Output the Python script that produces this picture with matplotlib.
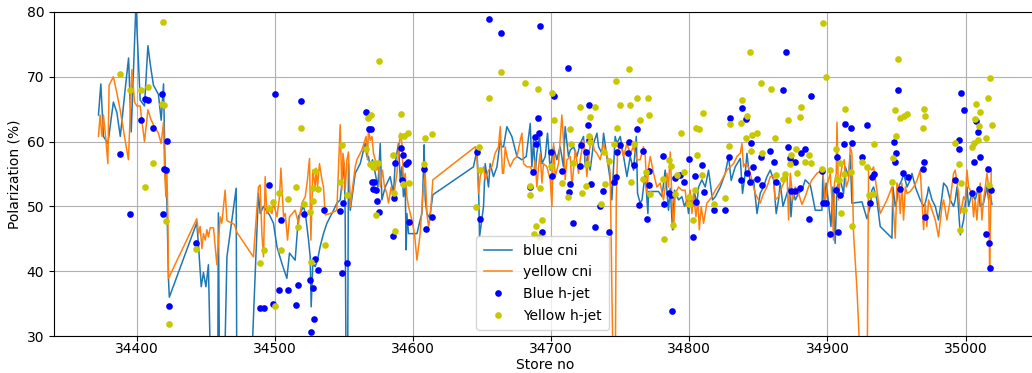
import matplotlib
matplotlib.use("Agg")
import matplotlib.pyplot as plt
from matplotlib.ticker import ScalarFormatter

# ---------------- data ----------------
blue_cni_x = [34372.2, 34373.9, 34375.8, 34379.0, 34383.0, 34385.5, 34388.0, 34391.5, 34394.0, 34395.9,
              34399.3, 34402.4, 34405.5, 34408.0, 34410.0, 34412.0, 34415.6, 34417.6, 34419.3, 34420.5,
              34421.7, 34422.9, 34423.5, 34443.4, 34444.6, 34446.6, 34448.2, 34450.0, 34451.8, 34453.8,
              34458.5, 34459.0, 34460.0, 34463.0, 34465.2, 34471.9, 34472.4, 34482.0, 34488.0, 34489.3,
              34491.7, 34496.0, 34498.9, 34501.4, 34505.0, 34508.6, 34510.5, 34514.6, 34517.0, 34520.6,
              34522.0, 34524.3, 34525.5, 34526.2, 34527.4, 34529.1, 34530.8, 34532.7, 34535.1, 34537.6,
              34542.4, 34544.8, 34547.2, 34549.2, 34550.1, 34550.8, 34551.6, 34552.5, 34553.2, 34554.5,
              34558.1, 34561.7, 34565.3, 34566.5, 34567.7, 34568.9, 34570.6, 34572.6, 34574.5, 34576.2,
              34577.4, 34579.8, 34583.4, 34585.8, 34587.0, 34589.4, 34590.7, 34591.9, 34593.0, 34594.3,
              34595.0, 34595.5, 34596.7, 34602.8, 34605.1, 34606.4, 34607.5, 34608.0, 34608.8, 34610.0,
              34611.2, 34612.4, 34614.3, 34643.7, 34646.2, 34647.4, 34648.1, 34651.0, 34652.2, 34654.6,
              34655.8, 34658.2, 34660.7, 34663.1, 34664.3, 34665.5, 34667.9, 34671.5, 34675.2, 34678.8,
              34681.9, 34684.8, 34686.0, 34687.2, 34688.4, 34689.6, 34691.5, 34693.3, 34695.7, 34697.3,
              34699.3, 34701.7, 34704.1, 34706.5, 34708.9, 34710.1, 34712.5, 34713.8, 34716.2, 34718.6,
              34721.0, 34723.4, 34724.6, 34726.3, 34728.2, 34730.6, 34733.1, 34734.3, 34736.7, 34737.9,
              34740.3, 34742.7, 34743.9, 34746.3, 34747.5, 34750.0, 34753.6, 34754.8, 34757.2, 34759.6,
              34761.6, 34762.5, 34764.4, 34765.7, 34768.1, 34770.0, 34770.5, 34774.1, 34777.7, 34780.2,
              34782.5, 34784.9, 34786.2, 34787.8, 34789.3, 34792.2, 34794.6, 34796.5, 34798.3, 34799.4,
              34800.6, 34802.3, 34803.8, 34805.5, 34806.7, 34809.1, 34811.5, 34813.9, 34816.8, 34818.8,
              34822.4, 34826.0, 34828.4, 34830.3, 34833.2, 34836.9, 34838.5, 34840.5, 34841.7, 34844.1,
              34846.5, 34849.0, 34851.3, 34853.7, 34856.2, 34858.6, 34861.0, 34862.9, 34864.6, 34865.8,
              34867.8, 34870.7, 34872.6, 34873.6, 34875.0, 34876.7, 34879.1, 34881.5, 34883.9, 34887.6,
              34891.2, 34896.0, 34896.7, 34897.7, 34899.1, 34900.8, 34902.5, 34904.0, 34905.6, 34906.9,
              34909.3, 34911.7, 34912.9, 34915.3, 34916.5, 34917.7, 34925.0, 34928.6, 34931.0, 34932.2,
              34933.4, 34935.8, 34938.2, 34946.7, 34947.4, 34949.1, 34950.3, 34951.5, 34953.9, 34955.1,
              34957.6, 34960.0, 34961.2, 34963.6, 34967.2, 34969.6, 34970.8, 34972.5, 34973.2, 34975.7,
              34978.1, 34980.4, 34982.9, 34984.1, 34986.5, 34988.9, 34991.3, 34992.5, 34993.8, 34996.2,
              34998.6, 35001.0, 35002.2, 35004.6, 35007.0, 35009.4, 35010.6, 35013.0, 35015.5, 35016.7,
              35017.9, 35019.1]
blue_cni_y = [64.1, 68.9, 60.8, 59.7, 66.1, 64.5, 60.8, 68.0, 72.9, 61.5,
              81.0, 66.4, 65.5, 74.8, 71.5, 68.7, 67.3, 63.3, 68.9, 55.0,
              51.0, 38.7, 36.0, 47.5, 44.0, 37.6, 39.8, 37.6, 41.0, 20.0,
              20.0, 49.0, 20.0, 20.0, 42.2, 52.8, 20.0, 20.0, 52.0, 48.9,
              50.0, 48.7, 47.4, 43.8, 41.2, 38.9, 42.8, 41.7, 48.4, 50.0,
              48.9, 44.8, 42.2, 34.5, 41.2, 40.7, 41.7, 43.8, 45.8, 47.4,
              49.4, 50.5, 51.0, 55.1, 56.6, 48.9, 20.0, 20.0, 56.6, 49.4,
              55.1, 56.6, 59.7, 57.7, 57.7, 56.1, 57.2, 55.1, 53.0, 59.7,
              51.0, 53.0, 54.6, 52.0, 56.6, 59.7, 54.1, 56.1, 51.5, 53.0,
              43.3, 48.9, 45.8, 45.8, 47.9, 48.9, 55.6, 59.5, 51.0, 48.9,
              48.4, 48.9, 51.8, 56.1, 58.7, 53.0, 45.3, 50.0, 56.6, 53.0,
              56.6, 54.6, 56.1, 60.2, 59.2, 59.2, 62.3, 60.8, 57.7, 57.2,
              57.7, 62.8, 56.1, 60.2, 55.1, 58.2, 60.8, 56.6, 57.7, 61.3,
              55.6, 59.2, 57.2, 59.2, 56.1, 62.3, 57.7, 58.7, 59.2, 57.7,
              59.7, 60.8, 56.1, 57.7, 55.6, 59.7, 61.3, 59.2, 58.2, 61.3,
              57.7, 54.1, 51.0, 60.8, 59.7, 60.8, 56.1, 54.6, 57.7, 55.6,
              60.8, 52.0, 50.5, 51.0, 55.1, 48.9, 52.3, 52.3, 52.3, 51.5,
              55.6, 49.4, 52.8, 46.4, 52.5, 51.0, 51.5, 50.0, 51.0, 48.9,
              51.5, 50.0, 52.0, 50.5, 53.0, 54.1, 53.0, 55.6, 51.0, 51.5,
              53.0, 55.1, 57.7, 54.0, 56.1, 57.4, 52.0, 55.1, 58.2, 53.6,
              54.1, 48.9, 52.0, 53.0, 54.6, 55.6, 54.1, 48.9, 51.0, 53.6,
              50.0, 52.0, 53.0, 48.4, 52.5, 51.0, 52.0, 52.5, 54.1, 53.3,
              49.4, 49.4, 55.1, 50.3, 53.6, 50.5, 46.9, 53.0, 44.3, 53.0,
              54.1, 52.0, 56.1, 54.6, 57.9, 50.5, 50.7, 48.1, 50.0, 52.5,
              53.0, 51.0, 46.9, 45.1, 53.0, 50.0, 51.0, 53.0, 54.1, 55.1,
              53.0, 54.1, 55.1, 53.0, 51.0, 50.0, 50.5, 52.0, 53.0, 51.0,
              50.0, 47.9, 51.5, 53.6, 53.0, 51.0, 50.0, 51.0, 53.0, 45.6,
              47.9, 53.0, 50.0, 52.0, 51.0, 53.0, 50.0, 50.5, 53.0, 51.0,
              52.0, 50.3]

yellow_cni_x = [34372.2, 34373.4, 34374.7, 34375.8, 34377.6, 34379.0, 34379.9, 34383.0, 34385.5, 34387.9,
                34391.5, 34393.9, 34396.4, 34398.3, 34400.0, 34402.4, 34403.6, 34405.5, 34408.0, 34410.4,
                34412.7, 34415.6, 34417.6, 34419.3, 34420.0, 34421.0, 34421.7, 34422.4, 34422.9, 34443.4,
                34444.6, 34445.8, 34447.1, 34448.2, 34449.5, 34450.7, 34451.8, 34453.1, 34455.5, 34457.9,
                34460.3, 34461.5, 34463.9, 34465.2, 34470.7, 34472.4, 34484.4, 34488.0, 34489.3, 34490.5,
                34491.7, 34492.9, 34494.1, 34496.0, 34497.8, 34498.9, 34501.4, 34503.3, 34504.3, 34506.2,
                34507.4, 34509.1, 34510.5, 34514.6, 34517.0, 34519.5, 34521.9, 34523.5, 34525.0, 34526.0,
                34527.4, 34529.1, 34529.8, 34530.8, 34532.2, 34534.0, 34535.1, 34536.4, 34540.0, 34544.8,
                34547.2, 34548.4, 34549.2, 34550.1, 34550.8, 34552.1, 34553.2, 34554.5, 34558.1, 34559.3,
                34562.9, 34566.0, 34567.0, 34567.7, 34568.9, 34570.2, 34571.3, 34572.6, 34573.8, 34574.9,
                34576.2, 34577.8, 34579.3, 34581.0, 34582.2, 34584.1, 34585.8, 34588.3, 34589.4, 34590.7,
                34591.9, 34593.0, 34594.3, 34595.5, 34596.7, 34599.1, 34601.0, 34602.8, 34605.1, 34607.5,
                34608.8, 34610.0, 34611.2, 34612.4, 34614.3, 34645.0, 34646.2, 34647.4, 34648.6, 34651.0,
                34652.2, 34654.6, 34657.0, 34659.4, 34661.8, 34663.1, 34664.7, 34665.5, 34666.7, 34667.9,
                34670.3, 34672.7, 34675.2, 34677.6, 34678.8, 34680.0, 34682.4, 34684.8, 34687.2, 34688.4,
                34689.6, 34690.8, 34692.0, 34693.3, 34694.4, 34696.9, 34699.3, 34700.5, 34701.7, 34702.9,
                34705.3, 34707.7, 34708.9, 34710.1, 34711.4, 34713.8, 34715.0, 34717.4, 34719.8, 34721.0,
                34723.4, 34724.6, 34725.8, 34727.7, 34729.5, 34731.1, 34733.1, 34735.5, 34737.9, 34740.3,
                34741.5, 34742.7, 34745.1, 34746.3, 34747.1, 34748.0, 34750.0, 34752.4, 34754.8, 34757.2,
                34759.6, 34762.0, 34764.4, 34766.8, 34768.1, 34769.3, 34770.5, 34771.7, 34774.1, 34776.5,
                34778.9, 34781.3, 34783.8, 34784.9, 34786.2, 34787.4, 34788.6, 34789.8, 34792.2, 34794.6,
                34797.0, 34798.3, 34799.4, 34800.6, 34801.9, 34803.0, 34804.8, 34806.2, 34807.2, 34808.6,
                34810.3, 34812.7, 34816.4, 34818.8, 34822.4, 34824.8, 34827.2, 34829.6, 34832.0, 34834.5,
                34836.9, 34838.1, 34839.2, 34840.5, 34842.9, 34845.3, 34847.7, 34851.3, 34853.7, 34856.2,
                34858.6, 34861.0, 34862.2, 34864.6, 34867.0, 34869.4, 34870.7, 34871.9, 34873.1, 34875.0,
                34876.7, 34879.1, 34881.5, 34883.9, 34886.3, 34888.8, 34892.4, 34896.0, 34897.2, 34898.4,
                34900.1, 34902.0, 34903.3, 34904.4, 34905.1, 34906.4, 34906.9, 34908.0, 34909.3, 34910.5,
                34912.2, 34913.6, 34915.3, 34916.5, 34917.7, 34918.9, 34921.4, 34925.0, 34928.6, 34929.8,
                34932.2, 34933.4, 34935.8, 34938.2, 34943.1, 34946.7, 34949.1, 34950.3, 34951.5, 34952.7,
                34953.9, 34955.1, 34956.4, 34957.6, 34960.0, 34962.4, 34964.8, 34967.2, 34969.6, 34970.8,
                34972.0, 34973.2, 34975.7, 34978.1, 34980.4, 34982.9, 34984.1, 34986.5, 34988.9, 34991.3,
                34992.5, 34993.8, 34995.0, 34996.2, 34997.4, 34998.6, 34999.8, 35001.0, 35002.2, 35004.6,
                35005.8, 35007.0, 35008.2, 35009.4, 35010.6, 35011.8, 35013.0, 35014.3, 35015.5, 35016.7,
                35017.4, 35017.9, 35018.6]
yellow_cni_y = [60.8, 64.1, 60.8, 64.1, 60.2, 56.6, 68.7, 70.0, 67.5, 64.9,
                60.2, 57.2, 71.1, 66.1, 65.5, 65.5, 63.3, 60.0, 64.9, 63.3,
                62.3, 61.3, 59.7, 63.0, 56.1, 51.5, 55.6, 48.9, 38.9, 48.1,
                45.8, 46.9, 43.5, 45.8, 44.8, 46.4, 45.3, 46.7, 46.7, 41.0,
                48.4, 47.4, 52.5, 47.8, 47.2, 46.0, 42.2, 53.0, 53.3, 45.8,
                42.2, 54.6, 48.9, 49.4, 48.9, 50.5, 48.4, 51.5, 55.9, 48.4,
                48.9, 44.8, 48.4, 49.4, 47.4, 50.5, 51.5, 54.1, 57.4, 44.8,
                55.6, 53.0, 55.9, 53.0, 56.6, 54.1, 53.0, 48.7, 48.9, 49.4,
                62.6, 52.5, 58.2, 56.6, 52.5, 57.2, 58.4, 50.0, 56.1, 57.2,
                58.7, 60.8, 57.2, 62.3, 60.2, 60.8, 58.2, 57.2, 55.6, 56.6,
                53.0, 55.6, 53.0, 52.0, 50.5, 53.0, 51.5, 55.1, 58.2, 61.3,
                59.7, 54.1, 55.1, 51.5, 50.0, 47.9, 45.8, 41.7, 45.8, 53.0,
                55.1, 48.9, 46.9, 48.4, 54.1, 59.2, 57.7, 52.0, 54.6, 56.1,
                54.1, 55.6, 56.1, 58.2, 59.2, 62.3, 55.1, 55.1, 59.2, 57.7,
                56.1, 57.2, 57.7, 60.2, 61.3, 56.6, 56.1, 56.1, 55.1, 57.2,
                53.0, 56.1, 58.2, 53.6, 56.6, 56.1, 54.1, 50.0, 59.7, 54.6,
                56.6, 64.1, 60.2, 54.1, 57.2, 57.7, 53.0, 58.7, 55.1, 57.2,
                60.2, 58.2, 54.6, 58.7, 60.8, 58.7, 58.2, 57.2, 59.7, 57.7,
                57.2, 55.1, 20.0, 20.0, 51.0, 58.2, 59.7, 57.7, 59.7, 58.2,
                59.2, 57.2, 57.2, 59.2, 57.7, 52.0, 56.1, 57.7, 55.1, 53.0,
                53.6, 51.0, 55.1, 53.0, 58.4, 51.0, 46.4, 52.0, 53.0, 52.5,
                52.5, 50.0, 51.0, 52.5, 48.9, 52.0, 48.4, 51.0, 46.4, 50.0,
                47.4, 50.5, 51.5, 52.5, 53.6, 54.6, 55.6, 56.1, 56.6, 57.7,
                58.2, 59.7, 56.1, 56.6, 56.1, 54.1, 52.0, 50.5, 52.0, 53.0,
                54.6, 54.6, 51.0, 51.5, 53.0, 54.1, 55.1, 47.9, 55.1, 51.0,
                53.0, 52.0, 50.3, 51.5, 53.0, 54.1, 55.1, 55.6, 54.1, 50.5,
                53.6, 55.1, 51.0, 44.8, 53.6, 55.1, 63.0, 51.0, 54.6, 56.1,
                57.2, 53.0, 54.1, 59.2, 58.2, 45.8, 37.1, 20.0, 20.0, 56.1,
                55.6, 56.1, 52.5, 48.9, 51.0, 53.0, 45.1, 53.6, 53.0, 48.9,
                53.6, 47.9, 53.0, 52.0, 52.3, 53.0, 54.0, 55.6, 46.4, 50.5,
                46.9, 51.0, 49.4, 47.9, 45.3, 50.0, 51.0, 47.9, 51.0, 55.1,
                55.6, 53.6, 52.0, 48.9, 50.0, 51.5, 51.0, 55.6, 53.0, 52.0,
                48.4, 51.0, 47.9, 51.5, 53.6, 47.9, 51.0, 53.0, 55.1, 53.0,
                40.7, 45.8, 55.4]

blue_hjet_x = [34388.0, 34395.0, 34403.0, 34406.0, 34408.0, 34412.0, 34418.0, 34419.0, 34422.0, 34420.0,
               34421.0, 34423.0, 34443.0, 34500.1, 34519.0, 34496.0, 34504.3, 34521.1, 34535.8, 34547.2,
               34549.2, 34529.1, 34531.1, 34525.0, 34527.2, 34517.0, 34503.0, 34509.1, 34489.3, 34492.2,
               34498.9, 34515.1, 34527.9, 34526.0, 34548.2, 34552.1, 34565.8, 34568.0, 34569.2, 34570.2,
               34572.0, 34571.1, 34573.1, 34574.0, 34575.0, 34587.0, 34586.1, 34585.1, 34590.9, 34592.8,
               34594.5, 34596.0, 34591.9, 34596.7, 34608.0, 34609.0, 34614.0, 34646.2, 34648.1, 34655.1,
               34663.8, 34692.0, 34712.1, 34701.7, 34690.1, 34688.4, 34691.5, 34688.9, 34700.0, 34686.7,
               34685.0, 34700.9, 34708.0, 34713.8, 34713.0, 34715.7, 34693.3, 34721.7, 34727.7, 34726.3,
               34727.3, 34725.4, 34721.0, 34728.7, 34737.6, 34735.5, 34731.9, 34741.8, 34747.6, 34750.0,
               34756.0, 34755.8, 34760.1, 34745.1, 34746.9, 34761.8, 34763.9, 34766.8, 34770.5, 34771.0,
               34769.0, 34780.9, 34782.0, 34785.0, 34786.7, 34787.8, 34789.8, 34793.6, 34795.8, 34799.9,
               34803.8, 34809.1, 34810.3, 34804.8, 34802.8, 34817.8, 34825.5, 34828.9, 34829.8, 34838.1,
               34841.0, 34844.8, 34846.0, 34841.7, 34837.1, 34843.9, 34849.2, 34852.6, 34851.8, 34858.6,
               34861.5, 34869.7, 34868.0, 34887.8, 34862.9, 34871.8, 34873.1, 34876.7, 34880.8, 34883.7,
               34873.8, 34876.7, 34879.8, 34887.0, 34896.0, 34896.7, 34898.9, 34901.5, 34907.6, 34906.9,
               34906.2, 34909.3, 34912.2, 34912.9, 34917.0, 34917.7, 34925.0, 34928.8, 34932.4, 34933.9,
               34930.8, 34950.8, 34947.9, 34949.3, 34949.1, 34954.7, 34952.7, 34958.0, 34969.6, 34968.9,
               34970.8, 34994.9, 34995.6, 34992.7, 34996.8, 34998.8, 35005.8, 35004.8, 35008.9, 35007.9,
               35010.6, 35009.9, 35015.9, 35018.6, 35015.0, 35016.7, 35017.9]
blue_hjet_y = [58.1, 48.8, 63.3, 66.6, 66.4, 62.1, 67.3, 48.8, 60.1, 55.7,
               55.6, 34.6, 44.4, 67.3, 66.2, 53.3, 47.9, 48.8, 49.4, 49.3,
               50.6, 41.9, 40.2, 38.6, 37.4, 37.8, 37.1, 37.1, 34.3, 34.3,
               35.0, 34.8, 32.6, 30.6, 39.7, 41.3, 64.5, 61.9, 62.0, 53.8,
               53.7, 52.7, 52.5, 50.9, 49.1, 56.7, 51.3, 45.5, 59.0, 57.9,
               56.5, 56.9, 54.1, 47.6, 55.8, 46.5, 48.4, 58.4, 48.1, 78.9,
               76.7, 77.9, 71.4, 67.0, 63.7, 60.7, 61.3, 59.7, 58.4, 55.3,
               53.0, 54.7, 55.4, 53.4, 52.2, 47.5, 46.0, 59.4, 65.6, 62.6,
               60.2, 58.4, 56.3, 53.5, 52.3, 50.0, 46.8, 46.0, 58.4, 59.4,
               60.0, 58.2, 56.4, 53.7, 54.5, 62.0, 50.2, 58.5, 55.5, 53.3,
               48.1, 57.8, 50.4, 52.0, 51.7, 33.8, 54.4, 54.9, 53.8, 57.3,
               54.7, 56.4, 52.2, 50.7, 45.3, 49.4, 49.4, 57.7, 63.7, 65.2,
               63.5, 59.8, 56.1, 55.2, 54.1, 53.7, 54.2, 53.3, 57.6, 58.5,
               56.8, 73.9, 67.9, 67.0, 53.8, 59.1, 57.4, 56.8, 58.3, 58.9,
               52.4, 52.4, 52.9, 48.0, 55.5, 50.6, 50.6, 45.7, 46.0, 57.6,
               52.5, 51.7, 59.6, 62.7, 62.1, 59.8, 57.6, 62.6, 54.6, 55.0,
               50.5, 67.9, 60.0, 58.3, 56.9, 55.1, 52.7, 54.6, 56.8, 55.8,
               48.3, 60.2, 58.8, 54.1, 67.5, 64.9, 56.8, 52.0, 61.5, 63.2,
               57.7, 52.7, 55.8, 52.6, 45.7, 44.4, 40.5]

yellow_hjet_x = [34388.0, 34419.0, 34395.0, 34403.0, 34408.0, 34418.0, 34420.0, 34412.0, 34406.0, 34421.0,
                 34423.0, 34443.0, 34519.0, 34548.4, 34547.2, 34529.1, 34527.2, 34531.1, 34515.1, 34503.0,
                 34498.9, 34509.1, 34496.0, 34521.1, 34527.2, 34525.0, 34517.0, 34552.1, 34492.0, 34489.1,
                 34504.3, 34536.1, 34526.2, 34500.1, 34567.5, 34566.0, 34575.0, 34569.7, 34568.9, 34570.6,
                 34572.6, 34574.5, 34571.3, 34573.1, 34591.2, 34591.4, 34593.6, 34596.0, 34585.1, 34586.1,
                 34587.0, 34592.8, 34596.7, 34608.0, 34608.8, 34614.0, 34647.4, 34648.1, 34645.9, 34655.1,
                 34663.8, 34680.7, 34690.1, 34700.5, 34702.2, 34713.3, 34714.3, 34700.0, 34707.7, 34712.1,
                 34685.0, 34684.8, 34692.0, 34693.3, 34688.9, 34687.2, 34691.5, 34715.7, 34721.0, 34728.2,
                 34731.9, 34725.8, 34722.2, 34725.4, 34728.2, 34727.0, 34736.2, 34738.6, 34742.2, 34737.9,
                 34747.1, 34750.0, 34756.0, 34756.7, 34762.1, 34747.6, 34745.1, 34757.9, 34764.4, 34759.6,
                 34770.1, 34771.0, 34768.6, 34766.8, 34771.7, 34782.0, 34788.1, 34781.1, 34785.0, 34786.9,
                 34791.0, 34789.8, 34795.8, 34793.9, 34799.4, 34799.9, 34802.8, 34804.3, 34805.7, 34809.1,
                 34806.7, 34804.8, 34810.0, 34817.8, 34826.0, 34828.9, 34829.8, 34837.1, 34838.1, 34842.0,
                 34841.0, 34845.3, 34848.9, 34844.1, 34851.8, 34858.8, 34844.8, 34852.8, 34861.7, 34896.7,
                 34898.9, 34871.8, 34880.1, 34880.8, 34873.8, 34876.9, 34887.0, 34883.7, 34887.8, 34873.1,
                 34869.4, 34867.8, 34862.9, 34878.1, 34895.9, 34902.0, 34905.9, 34908.8, 34906.9, 34908.3,
                 34912.9, 34912.2, 34917.0, 34909.8, 34917.7, 34924.7, 34928.6, 34933.9, 34930.3, 34933.0,
                 34950.8, 34948.9, 34952.7, 34955.1, 34957.6, 34949.8, 34947.4, 34946.9, 34969.9, 34970.8,
                 34968.9, 34992.7, 34994.9, 34996.6, 34995.9, 34998.8, 35007.9, 35010.8, 35006.8, 35009.7,
                 35015.9, 35017.9, 35018.8, 35014.8, 35008.7, 35006.3, 35004.8, 35016.9]
yellow_hjet_y = [70.4, 78.5, 67.9, 68.0, 68.4, 65.8, 65.6, 56.7, 53.0, 47.7,
                 31.9, 43.5, 62.1, 59.5, 53.8, 55.5, 52.9, 52.7, 53.0, 52.1,
                 50.7, 51.1, 49.7, 50.3, 50.9, 49.2, 46.8, 51.8, 43.3, 41.3,
                 43.2, 44.0, 41.4, 34.7, 63.7, 58.9, 72.4, 64.1, 56.6, 56.6,
                 56.7, 56.7, 56.1, 48.7, 64.3, 60.9, 60.8, 61.3, 58.0, 52.0,
                 46.2, 53.4, 53.6, 56.6, 60.5, 61.2, 59.2, 55.6, 49.9, 66.7,
                 70.7, 69.0, 68.1, 67.5, 63.3, 61.9, 59.7, 56.3, 53.6, 51.4,
                 53.1, 51.8, 52.8, 47.9, 47.0, 45.8, 45.3, 56.7, 65.3, 63.8,
                 65.3, 56.5, 52.1, 53.1, 60.0, 60.8, 50.4, 53.5, 57.0, 58.4,
                 69.4, 65.6, 71.2, 65.6, 66.7, 62.1, 59.7, 53.8, 63.4, 59.6,
                 66.8, 64.1, 55.3, 54.3, 51.9, 45.0, 47.1, 54.2, 57.2, 56.2,
                 54.8, 51.9, 55.3, 61.3, 51.4, 50.4, 47.9, 52.5, 58.0, 54.8,
                 61.9, 62.1, 64.4, 50.4, 51.3, 59.3, 62.7, 62.8, 66.4, 64.0,
                 60.5, 61.0, 61.3, 73.8, 69.1, 68.1, 58.6, 58.3, 60.6, 78.3,
                 69.9, 63.4, 63.8, 65.4, 57.9, 58.8, 57.9, 56.8, 56.7, 56.6,
                 55.0, 54.2, 54.8, 55.1, 55.8, 55.6, 58.9, 56.7, 54.3, 54.1,
                 65.0, 55.0, 55.3, 49.0, 47.0, 56.9, 56.1, 59.6, 51.8, 51.9,
                 72.8, 64.9, 63.6, 64.0, 64.2, 60.8, 57.4, 53.8, 65.0, 64.0,
                 62.1, 59.8, 56.6, 53.6, 46.3, 49.4, 65.8, 64.6, 63.5, 62.4,
                 66.7, 69.8, 62.6, 60.6, 60.2, 59.8, 59.1, 53.3]

x_ticks = [34400, 34500, 34600, 34700, 34800, 34900, 35000]
y_ticks = [30, 40, 50, 60, 70, 80]

# ---------------- figure ----------------
DPI = 100
W, H = 1032, 373
fig = plt.figure(figsize=(W / DPI, H / DPI), dpi=DPI)
ax_left, ax_right = 54.0, 1036.0
ax_top, ax_bottom = 12.0, 336.0
ax = fig.add_axes([ax_left / W, (H - ax_bottom) / H,
                   (ax_right - ax_left) / W, (ax_bottom - ax_top) / H])

ax.plot(blue_cni_x, blue_cni_y, color='#1f77b4', lw=1.1, label='blue cni')
ax.plot(yellow_cni_x, yellow_cni_y, color='#ff7f0e', lw=1.1, label='yellow cni')
ax.plot(blue_hjet_x, blue_hjet_y, 'o', color='#0000ff', ms=4.8, mec='none', label='Blue h-jet')
ax.plot(yellow_hjet_x, yellow_hjet_y, 'o', color='#c8c800', ms=4.8, mec='none', label='Yellow h-jet')

ax.set_xlim(34340, 35051)
ax.set_ylim(30, 80)
ax.set_xticks(x_ticks)
ax.set_yticks(y_ticks)
fmt = ScalarFormatter(useOffset=False)
ax.xaxis.set_major_formatter(fmt)
ax.tick_params(labelsize=10)
ax.tick_params(axis='x', pad=1.0)
ax.grid(True, color='#b0b0b0', lw=0.8)
ax.set_axisbelow(True)
ax.set_xlabel('Store no', fontsize=10, labelpad=1.5)
ax.set_ylabel('Polarization (%)', fontsize=10)

ax.legend(loc='lower left', bbox_to_anchor=(0.43, 0.018), borderaxespad=0,
          fontsize=10, framealpha=0.8, borderpad=0.55, labelspacing=0.55)

fig.savefig('out.png', dpi=DPI)
